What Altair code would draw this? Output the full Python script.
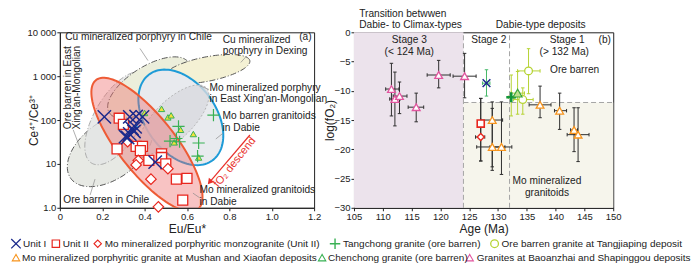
import altair as alt
import numpy as np
import pandas as pd

FONT = "Liberation Sans"

# ---------------- panel (a): Eu/Eu* vs Ce4+/Ce3+ ----------------
unit1_eu = [0.21, 0.33, 0.36, 0.39, 0.34, 0.35, 0.33, 0.31, 0.355, 0.32, 0.45]
unit1_ce = [118, 118, 120, 118, 65, 55, 48, 42, 70, 40, 11]
unit2_eu = [0.28, 0.30, 0.27, 0.36, 0.39, 0.38, 0.48, 0.48, 0.42, 0.50, 0.55, 0.60, 0.58]
unit2_ce = [110, 80, 22, 25, 25, 20, 17, 14, 12, 10, 4.5, 4.7, 1.5]
monzo_eu = [0.32, 0.37, 0.36, 0.51, 0.43, 0.465]
monzo_ce = [32, 12, 9.5, 7.8, 4.5, 1.05]
chen_eu = [0.40, 0.48, 0.51, 0.525, 0.57, 0.63, 0.54, 0.655]
chen_ce = [145, 180, 115, 128, 60, 48, 31, 14]
tang_eu = [0.725, 0.56, 0.52, 0.55, 0.565, 0.655, 0.65]
tang_ce = [130, 72, 33, 38, 32, 30, 15]
other_eu = [0.36]
other_ce = [74]

# reference fields drawn as ellipses: centre (Eu/Eu*, Ce ratio), semi-axes and tilt
field_names = ["ore_barren_chile", "ore_barren_exm", "cu_chile", "cu_dexing",
               "mo_barren_dabie", "mo_min_exm", "mo_min_dabie"]
field_cx = [0.237, 0.275, 0.42, 0.694, 0.571, 0.538, 0.411]
field_cy = [21, 110, 550, 1450, 115, 103, 27.5]
field_a = [50, 55, 48, 44, 56, 47, 86]
field_b = [30, 24, 22, 13, 36, 20, 29]
field_tilt = [40, 62, 35, 12, -58, 47, -54]

# ---------------- panel (b): age vs log(fO2) ----------------
bao_age = [111.5, 112.1, 112.9, 115.8, 119.7, 124.2]
bao_fo2 = [-9.7, -11.4, -10.9, -12.8, -7.3, -7.5]
bao_age_lo = [110.5, 111.2, 111.8, 114.4, 117.7, 122.2]
bao_age_hi = [112.8, 113.0, 114.2, 117.1, 121.7, 126.2]
bao_fo2_lo = [-14.3, -16.0, -13.9, -15.3, -9.5, -11.2]
bao_fo2_hi = [-5.3, -6.8, -8.5, -10.4, -4.8, -3.6]

u1_age, u1_fo2 = [128.0], [-8.7]
u1_age_lo, u1_age_hi, u1_fo2_lo, u1_fo2_hi = [127.3], [128.6], [-10.9], [-6.4]

u2_age, u2_fo2 = [127.0], [-15.6]
u2_age_lo, u2_age_hi, u2_fo2_lo, u2_fo2_hi = [127.0], [127.0], [-22.0], [-11.3]

mz_age, mz_fo2 = [127.0], [-17.9]
mz_age_lo, mz_age_hi, mz_fo2_lo, mz_fo2_hi = [126.1], [127.7], [-22.0], [-11.3]

mu_age = [129.0, 129.0, 130.6, 137.3, 140.7, 143.2, 143.9]
mu_fo2 = [-15.0, -19.6, -19.6, -12.4, -13.4, -16.7, -17.5]
mu_age_lo = [127.0, 126.3, 128.6, 135.4, 139.8, 142.6, 142.0]
mu_age_hi = [130.8, 131.2, 132.4, 139.2, 141.9, 143.8, 145.8]
mu_fo2_lo = [-23.6, -23.0, -24.3, -14.6, -16.6, -20.4, -22.1]
mu_fo2_hi = [-11.9, -13.0, -11.9, -9.2, -10.4, -12.9, -12.9]

tc_age, tc_fo2 = [132.3], [-11.1]
tc_age_lo, tc_age_hi, tc_fo2_lo, tc_fo2_hi = [131.8], [132.8], [-14.3], [-7.3]

cc_age, cc_fo2 = [133.4], [-10.4]
cc_age_lo, cc_age_hi, cc_fo2_lo, cc_fo2_hi = [132.3], [134.6], [-14.0], [-6.7]

tj_age, tj_fo2 = [135.3, 134.3], [-6.6, -11.5]
tj_age_lo, tj_age_hi = [133.4, 132.7], [137.3, 136.1]
tj_fo2_lo, tj_fo2_hi = [-10.5, -14.0], [-2.8, -9.5]

stage_bounds = [124, 132]
fo2_threshold = -12

legend_row1 = ["Unit I", "Unit II", "Mo mineralized porphyritic monzogranite (Unit II)",
               "Tangchong granite (ore barren)", "Ore barren granite at Tangjiaping deposit"]
legend_row2 = ["Mo mineralized porphyritic granite at Mushan and Xiaofan deposits",
               "Chenchong granite (ore barren)", "Granites at Baoanzhai and Shapinggou deposits"]

# ---------------- styles / layout ----------------
W1, W2, H = 255, 260, 176
NAVY, RED, GREEN, DKGREEN = "#1b2a8c", "#e8261e", "#39b154", "#12963a"
YGREEN, ORANGE, PINK, TXT = "#b6d334", "#f7941d", "#e2559f", "#222222"
XPATH = "M-1,-1L1,1M-1,1L1,-1"
PPATH = "M0,-1L0,1M-1,0L1,0"
VBAR = "M0,-1L0,1"
HBAR = "M-1,0L1,0"
KX, KY = 212.5, 47.0   # px per Eu/Eu* unit and per decade used for the field outlines

common_axis = dict(titleFontWeight="normal", titleFontSize=12, labelFontSize=9.5, labelPadding=1,
                   tickSize=3, grid=False, labelFlush=False)

xsc_a = alt.Scale(domain=[0, 1.2], nice=False)
ysc_a = alt.Scale(type="log", domain=[1, 10000], nice=False)
axis_xa = alt.Axis(values=[0, 0.2, 0.4, 0.6, 0.8, 1.0, 1.2],
                   labelExpr="datum.value == 0 ? '0' : format(datum.value, '.1f')",
                   title="Eu/Eu*", titleY=16, titleBaseline="top", **common_axis)
axis_ya = alt.Axis(values=[1, 10, 100, 1000, 10000],
                   labelExpr="datum.value == 10000 ? '10 000' : datum.value == 1000 ? '1 000' : datum.value == 1 ? '1.0' : datum.label",
                   title="Ce⁴⁺/Ce³⁺", titleX=-22, titleBaseline="alphabetic", **common_axis)


def enc_a(xf="x", yf="y"):
    return dict(x=alt.X(f"{xf}:Q", scale=xsc_a, axis=axis_xa),
                y=alt.Y(f"{yf}:Q", scale=ysc_a, axis=axis_ya))


def ellipse_df(cx, cy, a, b, t, n=120):
    th = np.linspace(0, 2 * np.pi, n + 1)
    tr = np.radians(t)
    dx = a * np.cos(th) * np.cos(tr) - b * np.sin(th) * np.sin(tr)
    dy = a * np.cos(th) * np.sin(tr) + b * np.sin(th) * np.cos(tr)
    return pd.DataFrame({"x": cx + dx / KX, "y": 10 ** (np.log10(cy) + dy / KY), "i": np.arange(n + 1)})


field_style = {
    "ore_barren_chile": dict(fill="#e7e9e4", fillOpacity=1, stroke="#555555", strokeWidth=1, strokeDash=[6, 2, 1, 2]),
    "ore_barren_exm": dict(fill="#e4e5e5", fillOpacity=0.8, stroke="#9a9a9a", strokeWidth=0.8, strokeDash=[6, 2, 1, 2]),
    "cu_chile": dict(fill="#eceedb", fillOpacity=1, stroke="#555555", strokeWidth=1, strokeDash=[6, 2, 1, 2]),
    "cu_dexing": dict(fill="#f4f1d4", fillOpacity=1, stroke="#555555", strokeWidth=1, strokeDash=[6, 2, 1, 2]),
    "mo_barren_dabie": dict(fill="#e8eaee", fillOpacity=1, stroke="#1e9bd7", strokeWidth=2),
    "mo_min_exm": dict(fill="#d8d9de", fillOpacity=0.8, stroke="#a8a8a8", strokeWidth=0.8, strokeDash=[2, 2]),
    "mo_min_dabie": dict(fill="#ee6a6a", fillOpacity=0.4, stroke="#ee5b35", strokeWidth=2),
}

layers_a = []
for nm, cx, cy, a, b, t in zip(field_names, field_cx, field_cy, field_a, field_b, field_tilt):
    layers_a.append(alt.Chart(ellipse_df(cx, cy, a, b, t)).mark_line(clip=True, **field_style[nm])
                    .encode(order="i:Q", **enc_a()))

# leader lines
lead = pd.DataFrame({
    "x": [0.378, 0.882, 0.704, 0.769, 0.660, 0.143, 0.063],
    "y": [4285, 2897, 497, 49.6, 1.69, 1.96, 60],
    "x2": [0.416, 0.854, 0.660, 0.736, 0.628, 0.166, 0.096],
    "y2": [2265, 2055, 604, 37, 2.16, 4.5, 22.6],
})
layers_a.append(alt.Chart(lead).mark_rule(color="#8c8c8c", strokeWidth=0.7)
                .encode(x2="x2:Q", y2="y2:Q", **enc_a()))

# fO2 arrow
arrow = pd.DataFrame({"x": [0.897], "y": [45.6], "x2": [0.709], "y2": [3.94]})
layers_a.append(alt.Chart(arrow).mark_rule(color="#e8302a", strokeWidth=1.2)
                .encode(x2="x2:Q", y2="y2:Q", **enc_a()))
layers_a.append(alt.Chart(pd.DataFrame({"x": [0.707], "y": [3.85]}))
                .mark_point(shape="triangle-up", angle=219, size=45, filled=True, color="#e8302a", opacity=1)
                .encode(**enc_a()))

# annotations
ann = pd.DataFrame({
    "x": [0.025, 0.769, 0.769, 0.706, 0.706, 0.768, 0.768, 0.659, 0.659, 0.016],
    "y": [7710, 6600, 3650, 545, 298, 126, 66, 2.5, 1.32, 1.51],
    "t": ["Cu mineralized porphyry in Chile", "Cu mineralized", "porphyry in Dexing",
          "Mo mineralized porphyry", "in East Xing'an-Mongolian", "Mo barren granitoids",
          "in Dabie", "Mo mineralized granitoids", "in Dabie", "Ore barren in Chile"],
})
layers_a.append(alt.Chart(ann).mark_text(align="left", baseline="middle", fontSize=10.2, color=TXT)
                .encode(text="t:N", **enc_a()))
layers_a.append(alt.Chart(pd.DataFrame({"x": [1.188], "y": [7710], "t": ["(a)"]}))
                .mark_text(align="right", baseline="middle", fontSize=10.2, color=TXT)
                .encode(text="t:N", **enc_a()))
vann = pd.DataFrame({"x": [0.039, 0.080], "y": [547, 547],
                     "t": ["Ore barren in East", "Xing'an-Mongolian"]})
layers_a.append(alt.Chart(vann).mark_text(align="center", baseline="middle", angle=270, fontSize=10.2, color=TXT)
                .encode(text="t:N", **enc_a()))
layers_a.append(alt.Chart(pd.DataFrame({"x": [0.826], "y": [10.8], "t": ["fO₂ descend"]}))
                .mark_text(align="center", baseline="middle", angle=308.7, fontSize=11, color="#e8302a")
                .encode(text="t:N", **enc_a()))


def pts(xs, ys):
    return pd.DataFrame({"x": xs, "y": ys})


layers_a += [
    alt.Chart(pts(chen_eu, chen_ce)).mark_point(shape="triangle-up", size=40, filled=True, fill="#f2e23a",
                                                stroke=GREEN, strokeWidth=1, opacity=1).encode(**enc_a()),
    alt.Chart(pts(tang_eu, tang_ce)).mark_point(shape=PPATH, size=150, filled=False, color=GREEN,
                                                strokeWidth=1.2, opacity=1).encode(**enc_a()),
    alt.Chart(pts(unit2_eu, unit2_ce)).mark_point(shape="square", size=100, filled=True, fill="white",
                                                  stroke=RED, strokeWidth=1.3, opacity=1).encode(**enc_a()),
    alt.Chart(pts(monzo_eu, monzo_ce)).mark_point(shape="diamond", size=110, filled=True, fill="white",
                                                  stroke=RED, strokeWidth=1.2, opacity=1).encode(**enc_a()),
    alt.Chart(pts(other_eu, other_ce)).mark_point(shape="triangle-up", size=30, filled=True,
                                                  color="#3bb0e6", opacity=1).encode(**enc_a()),
    alt.Chart(pts(unit1_eu, unit1_ce)).mark_point(shape=XPATH, size=180, filled=False, color=NAVY,
                                                  strokeWidth=1.5, opacity=1).encode(**enc_a()),
]

# ---------------- legend (pixel layout under both panels) ----------------
dummy = alt.Data(values=[{"d": 0}])
LY1, LY2 = 212, 226
leg_markers = [
    (-44, LY1, dict(shape=XPATH, size=90, filled=False, color=NAVY, strokeWidth=1.3)),
    (-4, LY1, dict(shape="square", size=55, filled=False, color=RED, strokeWidth=1.2)),
    (38, LY1, dict(shape="diamond", size=55, filled=False, color=RED, strokeWidth=1.1)),
    (276, LY1, dict(shape=PPATH, size=110, filled=False, color=GREEN, strokeWidth=1.4)),
    (436, LY1, dict(shape="circle", size=60, filled=False, color=YGREEN, strokeWidth=1.3)),
    (-44, LY2, dict(shape="triangle-up", size=55, filled=False, color=ORANGE, strokeWidth=1.1)),
    (263, LY2, dict(shape="triangle-up", size=55, filled=False, color=GREEN, strokeWidth=1.1)),
    (411, LY2, dict(shape="triangle-up", size=55, filled=False, color=PINK, strokeWidth=1.1)),
]
leg_text_x1 = [-37, 3, 45, 284, 443]
leg_text_x2 = [-38, 269, 418]
for px, py, st in leg_markers:
    layers_a.append(alt.Chart(dummy).mark_point(opacity=1, **st).encode(x=alt.value(px), y=alt.value(py)))
for px, t in zip(leg_text_x1, legend_row1):
    layers_a.append(alt.Chart(dummy).mark_text(text=t, align="left", baseline="middle", fontSize=10, color=TXT)
                    .encode(x=alt.value(px), y=alt.value(LY1)))
for px, t in zip(leg_text_x2, legend_row2):
    layers_a.append(alt.Chart(dummy).mark_text(text=t, align="left", baseline="middle", fontSize=10, color=TXT)
                    .encode(x=alt.value(px), y=alt.value(LY2)))

left = alt.layer(*layers_a).properties(width=W1, height=H)

# ---------------- panel (b) ----------------
xsc_b = alt.Scale(domain=[105, 150], nice=False)
ysc_b = alt.Scale(domain=[-30, 0], nice=False)
axis_xb = alt.Axis(values=list(range(105, 151, 5)), title="Age (Ma)", titleY=16, titleBaseline="top",
                   **common_axis)
axis_yb = alt.Axis(values=list(range(-30, 1, 5)), title="log(fO₂)", titleX=-21, titleBaseline="alphabetic",
                   **common_axis)


def enc_b(xf="x", yf="y"):
    return dict(x=alt.X(f"{xf}:Q", scale=xsc_b, axis=axis_xb),
                y=alt.Y(f"{yf}:Q", scale=ysc_b, axis=axis_yb))


layers_b = []
bg = pd.DataFrame({"x": [105, stage_bounds[0]], "x2": [stage_bounds[0], 150],
                   "y": [-30, -30], "y2": [0, fo2_threshold], "c": ["#ece3ec", "#f6f5ec"]})
layers_b.append(alt.Chart(bg).mark_rect().encode(x2="x2:Q", y2="y2:Q",
                                                 color=alt.Color("c:N", scale=None), **enc_b()))
dl = pd.DataFrame({"x": [stage_bounds[0], stage_bounds[1], stage_bounds[0]],
                   "x2": [stage_bounds[0], stage_bounds[1], 150],
                   "y": [-30, -30, fo2_threshold], "y2": [0, 0, fo2_threshold]})
layers_b.append(alt.Chart(dl).mark_rule(color="#a5a5a5", strokeDash=[5, 3], strokeWidth=1)
                .encode(x2="x2:Q", y2="y2:Q", **enc_b()))


def err_df(age, fo2, alo, ahi, flo, fhi, col):
    return pd.DataFrame({"x": age, "y": fo2, "xlo": alo, "xhi": ahi, "ylo": flo, "yhi": fhi, "c": col})


BLK = "#2e2e2e"
errs = pd.concat([
    err_df(bao_age, bao_fo2, bao_age_lo, bao_age_hi, bao_fo2_lo, bao_fo2_hi, BLK),
    err_df(u2_age, u2_fo2, u2_age_lo, u2_age_hi, u2_fo2_lo, u2_fo2_hi, BLK),
    err_df(mz_age, mz_fo2, mz_age_lo, mz_age_hi, mz_fo2_lo, mz_fo2_hi, BLK),
    err_df(mu_age, mu_fo2, mu_age_lo, mu_age_hi, mu_fo2_lo, mu_fo2_hi, BLK),
    err_df(u1_age, u1_fo2, u1_age_lo, u1_age_hi, u1_fo2_lo, u1_fo2_hi, "#45b868"),
    err_df(tc_age, tc_fo2, tc_age_lo, tc_age_hi, tc_fo2_lo, tc_fo2_hi, YGREEN),
    err_df(cc_age, cc_fo2, cc_age_lo, cc_age_hi, cc_fo2_lo, cc_fo2_hi, YGREEN),
    err_df(tj_age, tj_fo2, tj_age_lo, tj_age_hi, tj_fo2_lo, tj_fo2_hi, YGREEN),
], ignore_index=True)
cenc = alt.Color("c:N", scale=None)
layers_b += [
    alt.Chart(errs).mark_rule(strokeWidth=1).encode(x2="xhi:Q", color=cenc, **enc_b("xlo", "y")),
    alt.Chart(errs).mark_rule(strokeWidth=1).encode(y2="yhi:Q", color=cenc, **enc_b("x", "ylo")),
    alt.Chart(errs).mark_point(shape=VBAR, size=12, filled=False, strokeWidth=1, opacity=1)
    .encode(color=cenc, **enc_b("xlo", "y")),
    alt.Chart(errs).mark_point(shape=VBAR, size=12, filled=False, strokeWidth=1, opacity=1)
    .encode(color=cenc, **enc_b("xhi", "y")),
    alt.Chart(errs).mark_point(shape=HBAR, size=12, filled=False, strokeWidth=1, opacity=1)
    .encode(color=cenc, **enc_b("x", "ylo")),
    alt.Chart(errs).mark_point(shape=HBAR, size=12, filled=False, strokeWidth=1, opacity=1)
    .encode(color=cenc, **enc_b("x", "yhi")),
]

layers_b += [
    alt.Chart(pts(bao_age, bao_fo2)).mark_point(shape="triangle-up", size=60, filled=True, fill="white",
                                                stroke=PINK, strokeWidth=1.3, opacity=1).encode(**enc_b()),
    alt.Chart(pts(mu_age, mu_fo2)).mark_point(shape="triangle-up", size=60, filled=True, fill="white",
                                              stroke=ORANGE, strokeWidth=1.3, opacity=1).encode(**enc_b()),
    alt.Chart(pts(u2_age, u2_fo2)).mark_point(shape="square", size=50, filled=True, fill="white",
                                              stroke=RED, strokeWidth=1.6, opacity=1).encode(**enc_b()),
    alt.Chart(pts(mz_age, mz_fo2)).mark_point(shape="diamond", size=50, filled=True, fill="white",
                                              stroke=RED, strokeWidth=1.4, opacity=1).encode(**enc_b()),
    alt.Chart(pts(u1_age, u1_fo2)).mark_point(shape=XPATH, size=60, filled=False, color=NAVY,
                                              strokeWidth=1.5, opacity=1).encode(**enc_b()),
    alt.Chart(pts(tj_age, tj_fo2)).mark_point(shape="circle", size=60, filled=True, fill="white",
                                              stroke=YGREEN, strokeWidth=1.3, opacity=1).encode(**enc_b()),
    alt.Chart(pts(tc_age, tc_fo2)).mark_point(shape=PPATH, size=100, filled=False, color=DKGREEN,
                                              strokeWidth=2.6, opacity=1).encode(**enc_b()),
    alt.Chart(pts(cc_age, cc_fo2)).mark_point(shape="triangle-up", size=80, filled=True, fill="#bfe08c",
                                              stroke="#3aa53a", strokeWidth=1.2, opacity=1).encode(**enc_b()),
]

tb = pd.DataFrame({
    "x": [114.6, 114.6, 128.4, 142.0, 141.5, 143.3, 138.5, 138.5],
    "y": [-1.3, -3.3, -1.3, -1.3, -3.3, -6.5, -25.4, -27.4],
    "t": ["Stage 3", "(< 124 Ma)", "Stage 2", "Stage 1", "(> 132 Ma)", "Ore barren",
          "Mo mineralized", "granitoids"],
})
layers_b.append(alt.Chart(tb).mark_text(align="center", baseline="middle", fontSize=10.2, color=TXT)
                .encode(text="t:N", **enc_b()))
layers_b.append(alt.Chart(pd.DataFrame({"x": [149.6], "y": [-1.3], "t": ["(b)"]}))
                .mark_text(align="right", baseline="middle", fontSize=10.2, color=TXT)
                .encode(text="t:N", **enc_b()))
top = pd.DataFrame({"x": [105.9, 105.9], "y": [3.1, 1.2],
                    "t": ["Transition betwwen", "Dabie- to Climax-types"]})
layers_b.append(alt.Chart(top).mark_text(align="left", baseline="middle", fontSize=10.2, color=TXT)
                .encode(text="t:N", **enc_b()))
layers_b.append(alt.Chart(pd.DataFrame({"x": [137.4], "y": [1.2], "t": ["Dabie-type deposits"]}))
                .mark_text(align="center", baseline="middle", fontSize=10.2, color=TXT)
                .encode(text="t:N", **enc_b()))

right = alt.layer(*layers_b).properties(width=W2, height=H)

chart = (alt.hconcat(left, right, spacing=40, bounds="flush")
         .properties(padding=0)
         .configure(font=FONT)
         .configure_view(stroke="#222222", strokeWidth=1)
         .configure_axis(domainColor="#222222", tickColor="#222222", labelColor=TXT, titleColor=TXT,
                         labelFont=FONT, titleFont=FONT))

chart.save("out.html", embed_options={"renderer": "svg", "actions": False})
